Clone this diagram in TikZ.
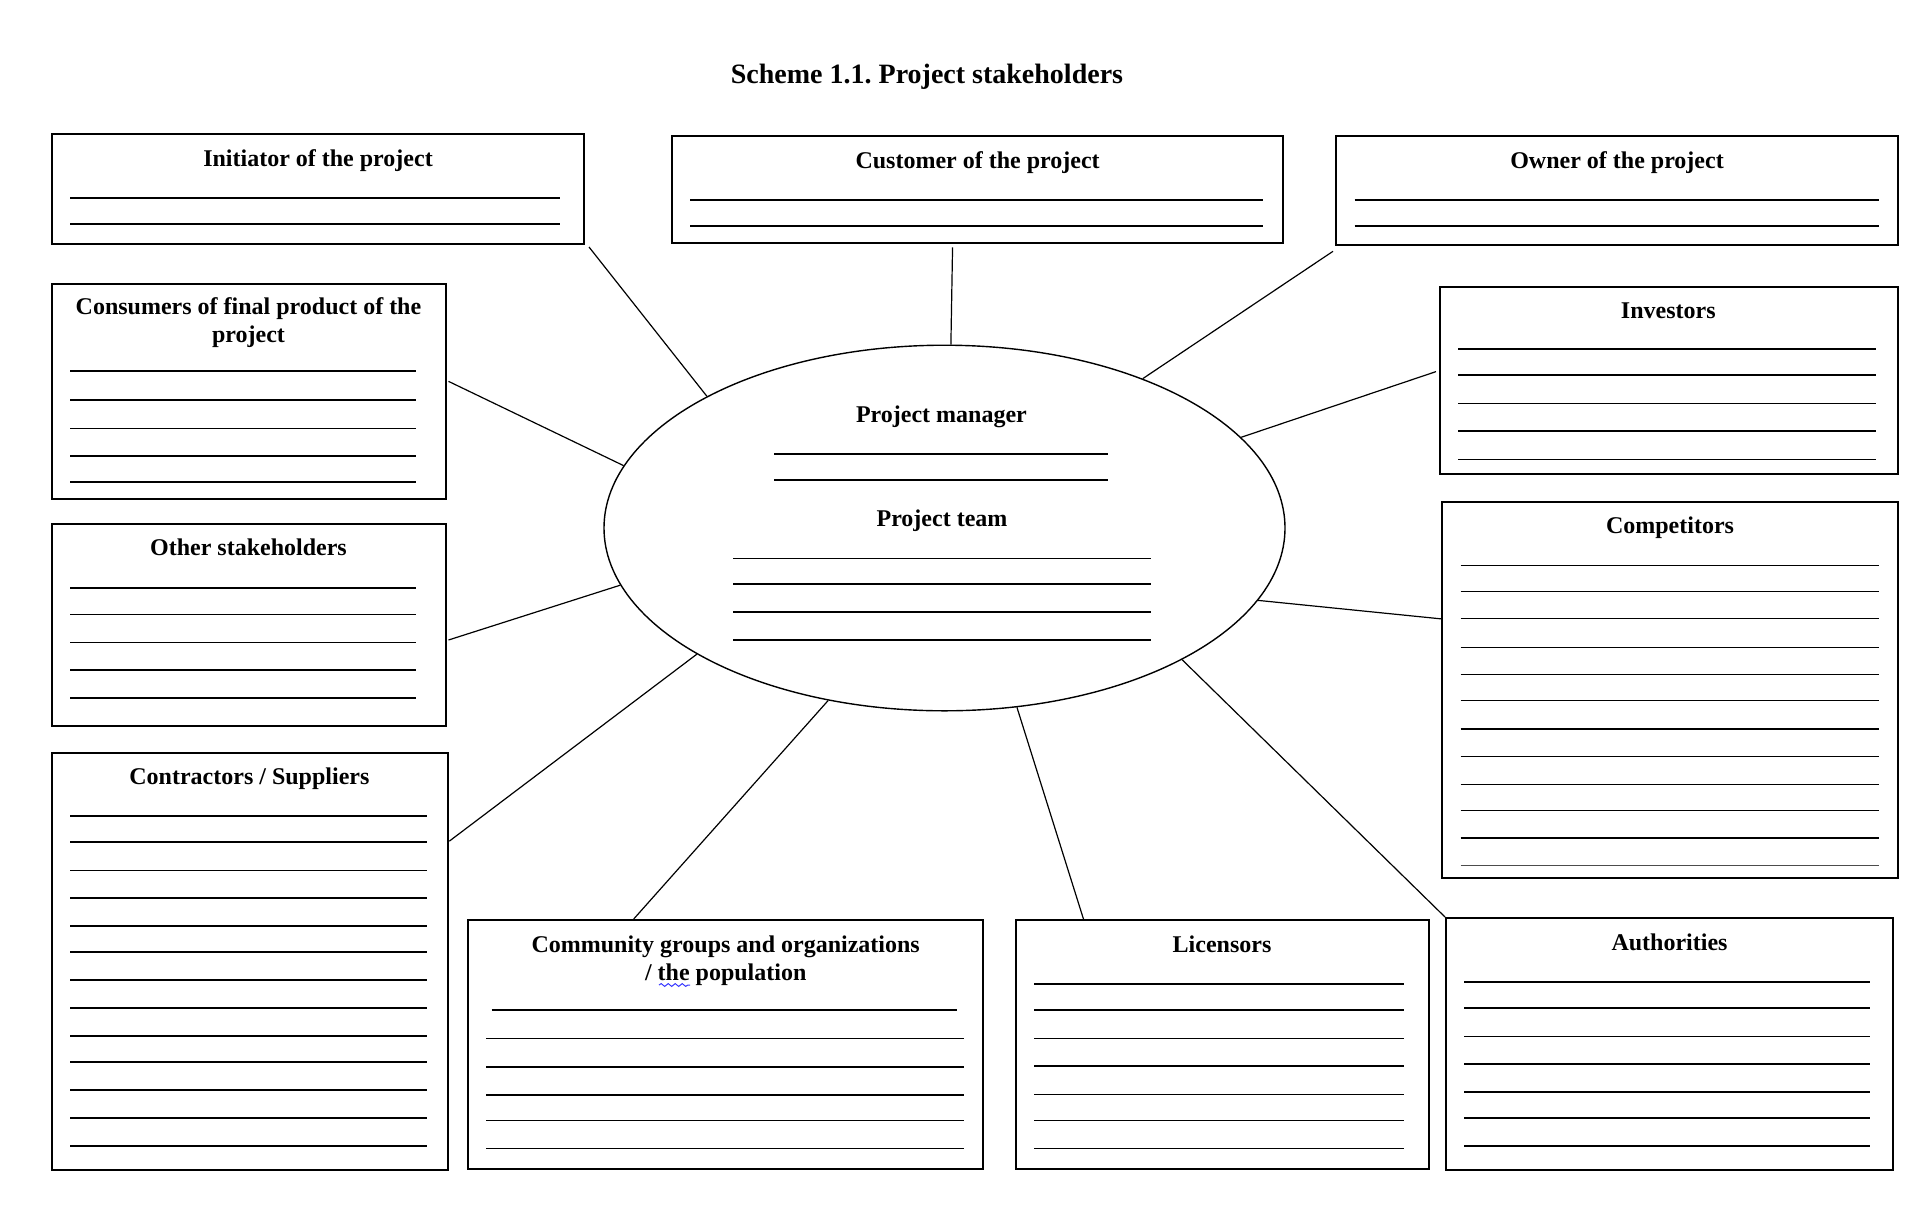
\documentclass[tikz,border=0pt]{standalone}
\usepackage{fontspec}
\setmainfont{Liberation Serif}
\usetikzlibrary{shapes.geometric,fit,calc,decorations.pathmorphing}
\frenchspacing
\begin{document}
\begin{tikzpicture}[x=0.5pt,y=-0.5pt,
  box/.style={draw,line width=1pt,inner sep=0pt},
  blank/.style={line width=0.8pt},
  link/.style={line width=0.6pt},
  lbl/.style={font=\bfseries\fontsize{12}{14}\selectfont,anchor=base,inner sep=0pt},
]
\useasboundingbox (0,0) rectangle (1922,1205);
\node[font=\bfseries\fontsize{14}{16}\selectfont,anchor=base,inner sep=0pt] (title) at (927,83) {Scheme 1.1. Project stakeholders};

% boxes
\node[box,fit={(51.5,133.7)(584,244)}] (init) {};
\node[box,fit={(671.7,135.7)(1283.4,243.3)}] (cust) {};
\node[box,fit={(1336,135.7)(1897.5,245.3)}] (owner) {};
\node[box,fit={(51.8,283.7)(445.5,499)}] (cons) {};
\node[box,fit={(51.8,524)(445.5,726)}] (other) {};
\node[box,fit={(51.7,753.3)(448.3,1170)}] (contr) {};
\node[box,fit={(468,920)(983.4,1169)}] (comm) {};
\node[box,fit={(1016.3,920)(1428.6,1169)}] (lic) {};
\node[box,fit={(1446,918)(1893,1169.7)}] (auth) {};
\node[box,fit={(1440,286.8)(1898,474.4)}] (inv) {};
\node[box,fit={(1442,502)(1898,877.7)}] (comp) {};

% labels
\node[lbl] (tinit) at (318,166) {Initiator of the project};
\node[lbl] (tcust) at (977.6,168) {Customer of the project};
\node[lbl] (towner) at (1617,168) {Owner of the project};
\node[lbl] (tcons1) at (248.5,314) {Consumers of final product of the};
\node[lbl] (tcons2) at (248.5,342) {project};
\node[lbl] (tother) at (248.5,555) {Other stakeholders};
\node[lbl] (tcontr) at (249.4,784) {Contractors / Suppliers};
\node[lbl] (tcomm1) at (725.7,952) {Community groups and organizations};
\node[lbl] (tcomm2) at (725.7,980) {/ the population};
\node[lbl] (tlic) at (1222,952) {Licensors};
\node[lbl] (tauth) at (1669.5,950) {Authorities};
\node[lbl] (tinv) at (1668.3,318) {Investors};
\node[lbl] (tcomp) at (1670,533) {Competitors};
\draw[blue!80,line width=0.5pt,decorate,decoration={snake,amplitude=0.7pt,segment length=3.5pt}] (659,985) -- (690,985);

% blank lines
\foreach \y in {198,224} \draw[blank] (70,\y) -- (560,\y);
\foreach \y in {200,226} \draw[blank] (690,\y) -- (1263,\y);
\foreach \y in {200,226} \draw[blank] (1354.5,\y) -- (1879,\y);
\foreach \y in {371,399.7,428.3,455.7,481.7} \draw[blank] (70,\y) -- (416,\y);
\foreach \y in {587.7,614.3,642.3,670,697.7} \draw[blank] (70,\y) -- (416,\y);
\foreach \y in {815.7,842,870.3,898,926,952,980,1007.7,1035.7,1061.7,1089.7,1117.7,1145.7} \draw[blank] (70,\y) -- (427,\y);
\draw[blank] (491.7,1010) -- (957.3,1010);
\foreach \y in {1038.3,1066.7,1094.7,1120.3,1148.3} \draw[blank] (486,\y) -- (963.6,\y);
\foreach \y in {984,1010,1038.3,1066,1094.3,1120.3,1148.3} \draw[blank] (1034.3,\y) -- (1403.8,\y);
\foreach \y in {982,1008,1036.3,1064,1092,1117.7,1145.7} \draw[blank] (1464,\y) -- (1870,\y);
\foreach \y in {349,375,403.5,431.2,459.4} \draw[blank] (1458,\y) -- (1876,\y);
\foreach \y in {565.3,591.3,618.6,647.6,674.5,700.6,728.7,756.4,784.6,810.6,838} \draw[blank] (1460.7,\y) -- (1879.4,\y);
\draw[line width=0.5pt,black!70] (1460.7,865.6) -- (1879.4,865.6);

% central ellipse
\node[ellipse,draw,line width=0.7pt,minimum width=340.5pt,minimum height=182.8pt,inner sep=0pt] (pm) at (944.5,528) {};
\node[lbl] (tpm) at (941.4,422) {Project manager};
\foreach \y in {454,480} \draw[blank] (774,\y) -- (1108,\y);
\node[lbl] (tteam) at (942,526) {Project team};
\foreach \y in {558.3,584,612,640} \draw[blank] (733,\y) -- (1151,\y);

% connectors
\draw[link] ($(init.south east)+(4,2)$) -- (pm.151);
\draw[link] ($(cust.south)+(-25,3)$) -- (pm.88);
\draw[link] ($(owner.south west)+(-2,5)$) -- (pm.37);
\draw[link] ($(inv.west)+(-3,-9)$) -- (pm.17);
\draw[link] ($(comp.west)+(0,-71)$) -- (pm.347);
\draw[link] (auth.north west) -- (pm.331);
\draw[link] ($(lic.north)+(-139,0)$) -- (pm.292);
\draw[link] ($(comm.north)+(-92,0)$) -- (pm.236);
\draw[link] ($(contr.east)+(0,-120.5)$) -- (pm.207);
\draw[link] ($(other.east)+(2,15)$) -- (pm.190);
\draw[link] ($(cons.east)+(2,-10)$) -- (pm.169);
\end{tikzpicture}
\end{document}
